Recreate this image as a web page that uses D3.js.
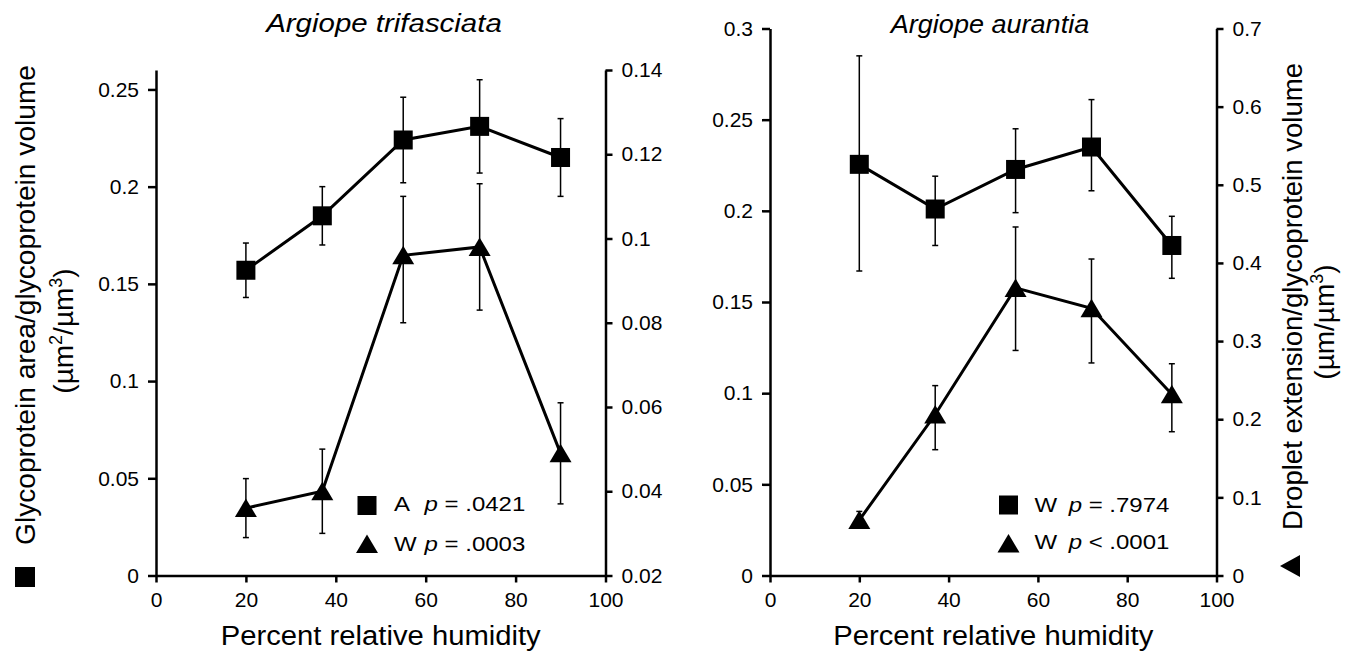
<!DOCTYPE html>
<html>
<head>
<meta charset="utf-8">
<script src="https://cdn.jsdelivr.net/npm/d3@7/dist/d3.min.js"></script>
<style>
body { margin: 0; background: #fff; }
svg { font-family: "Liberation Sans", Arial, Helvetica, sans-serif; }
.axis path, .axis line { stroke: #000; stroke-width: 2.5; }
.axis text { font-size: 21px; fill: #000; }
</style>
</head>
<body>
<div id="chart"></div>
<script>
var humidity = [20, 37, 55, 72, 90];
var xTicks = [0, 20, 40, 60, 80, 100];

// Argiope trifasciata: squares = area/volume (left axis), triangles = extension/volume (right axis)
var triArea   = [0.157, 0.185, 0.224, 0.231, 0.215];
var triAreaLo = [0.143, 0.170, 0.202, 0.207, 0.195];
var triAreaHi = [0.171, 0.200, 0.246, 0.255, 0.235];
var triExt    = [0.036, 0.040, 0.096, 0.098, 0.049];
var triExtLo  = [0.029, 0.030, 0.080, 0.083, 0.037];
var triExtHi  = [0.043, 0.050, 0.110, 0.113, 0.061];
var triLeftTicks  = [0, 0.05, 0.1, 0.15, 0.2, 0.25];
var triLeftLabels = ["0", "0.05", "0.1", "0.15", "0.2", "0.25"];
var triRightTicks  = [0.02, 0.04, 0.06, 0.08, 0.1, 0.12, 0.14];
var triRightLabels = ["0.02", "0.04", "0.06", "0.08", "0.1", "0.12", "0.14"];
var triLegend = [["A", "p", " = .0421"], ["W", "p", " = .0003"]];

// Argiope aurantia
var aurArea   = [0.2255, 0.201, 0.2227, 0.235, 0.181];
var aurAreaLo = [0.167, 0.181, 0.199, 0.211, 0.163];
var aurAreaHi = [0.285, 0.219, 0.245, 0.261, 0.197];
var aurExt    = [0.071, 0.206, 0.368, 0.342, 0.232];
var aurExtLo  = [0.062, 0.161, 0.288, 0.272, 0.184];
var aurExtHi  = [0.082, 0.243, 0.446, 0.405, 0.271];
var aurLeftTicks  = [0, 0.05, 0.1, 0.15, 0.2, 0.25, 0.3];
var aurLeftLabels = ["0", "0.05", "0.1", "0.15", "0.2", "0.25", "0.3"];
var aurRightTicks  = [0, 0.1, 0.2, 0.3, 0.4, 0.5, 0.6, 0.7];
var aurRightLabels = ["0", "0.1", "0.2", "0.3", "0.4", "0.5", "0.6", "0.7"];
var aurLegend = [["W", "p", " = .7974"], ["W", "p", " < .0001"]];

var panels = [
  { title: "Argiope trifasciata", area: triArea, areaLo: triAreaLo, areaHi: triAreaHi,
    ext: triExt, extLo: triExtLo, extHi: triExtHi,
    leftTicks: triLeftTicks, leftLabels: triLeftLabels, leftDomain: [0, 0.26],
    rightTicks: triRightTicks, rightLabels: triRightLabels, rightDomain: [0.02, 0.14],
    legend: triLegend,
    left: 156, right: 605.5, top: 70, bottom: 575.5, titleX: 384, titleY: 32,
    legX: 367, legTextX: 394, legY: [505.5, 544], legBase: [511, 551], legP: 25.5 },
  { title: "Argiope aurantia", area: aurArea, areaLo: aurAreaLo, areaHi: aurAreaHi,
    ext: aurExt, extLo: aurExtLo, extHi: aurExtHi,
    leftTicks: aurLeftTicks, leftLabels: aurLeftLabels, leftDomain: [0, 0.3],
    rightTicks: aurRightTicks, rightLabels: aurRightLabels, rightDomain: [0, 0.7],
    legend: aurLegend,
    left: 770, right: 1216.5, top: 28.5, bottom: 575.5, titleX: 990, titleY: 33,
    legX: 1008.5, legTextX: 1034.5, legY: [505, 543.5], legBase: [512, 549], legP: 28.5 }
];

var width = 1354,
    height = 655;

var svg = d3.select("#chart").append("svg")
    .attr("width", width)
    .attr("height", height);

var triPath = "M0,-9.5L11,9L-11,9Z";
var sq = 19;

panels.forEach(drawPanel);

function drawPanel(p) {

  var x = d3.scaleLinear().domain([0, 100]).range([p.left, p.right]);
  var yL = d3.scaleLinear().domain(p.leftDomain).range([p.bottom, p.top]);
  var yR = d3.scaleLinear().domain(p.rightDomain).range([p.bottom, p.top]);

  svg.append("g")
      .attr("class", "axis")
      .attr("transform", "translate(0," + p.bottom + ")")
      .call(d3.axisBottom(x).tickValues(xTicks).tickSize(7).tickPadding(10).tickSizeOuter(0));

  svg.append("g")
      .attr("class", "axis")
      .attr("transform", "translate(" + p.left + ",0)")
      .call(d3.axisLeft(yL).tickValues(p.leftTicks)
        .tickFormat(function(d, i) { return p.leftLabels[i]; })
        .tickSize(8).tickPadding(9).tickSizeOuter(0));

  svg.append("g")
      .attr("class", "axis")
      .attr("transform", "translate(" + p.right + ",0)")
      .call(d3.axisRight(yR).tickValues(p.rightTicks)
        .tickFormat(function(d, i) { return p.rightLabels[i]; })
        .tickSize(7).tickPadding(9).tickSizeOuter(0));

  svg.selectAll(".axis .domain").attr("stroke-width", 3);

  svg.append("text")
      .attr("x", p.titleX)
      .attr("y", p.titleY)
      .attr("text-anchor", "middle")
      .attr("font-size", 25)
      .attr("font-style", "italic")
      .attr("textLength", p.title.length * 12.4)
      .attr("lengthAdjust", "spacingAndGlyphs")
      .text(p.title);

  svg.append("text")
      .attr("x", (p.left + p.right) / 2)
      .attr("y", 645)
      .attr("text-anchor", "middle")
      .attr("font-size", 27)
      .attr("textLength", 320)
      .attr("lengthAdjust", "spacingAndGlyphs")
      .text("Percent relative humidity");

  var series = [
    { v: p.area, lo: p.areaLo, hi: p.areaHi, y: yL, shape: "square" },
    { v: p.ext, lo: p.extLo, hi: p.extHi, y: yR, shape: "triangle" }
  ];

  series.forEach(function(s) {
    var line = d3.line()
        .x(function(d, i) { return x(humidity[i]); })
        .y(function(d) { return s.y(d); });

    svg.append("path")
        .datum(s.v)
        .attr("d", line)
        .attr("fill", "none")
        .attr("stroke", "#000")
        .attr("stroke-width", 3);

    var bars = svg.append("g").attr("stroke", "#000").attr("stroke-width", 1.5);
    s.v.forEach(function(d, i) {
      var cx = x(humidity[i]);
      bars.append("line").attr("x1", cx).attr("x2", cx).attr("y1", s.y(s.lo[i])).attr("y2", s.y(s.hi[i]));
      bars.append("line").attr("x1", cx - 3).attr("x2", cx + 3).attr("y1", s.y(s.lo[i])).attr("y2", s.y(s.lo[i]));
      bars.append("line").attr("x1", cx - 3).attr("x2", cx + 3).attr("y1", s.y(s.hi[i])).attr("y2", s.y(s.hi[i]));
    });

    if (s.shape == "square") {
      svg.selectAll(null).data(s.v).enter().append("rect")
          .attr("x", function(d, i) { return x(humidity[i]) - sq / 2; })
          .attr("y", function(d) { return s.y(d) - sq / 2; })
          .attr("width", sq)
          .attr("height", sq)
          .attr("fill", "#000");
    } else {
      svg.selectAll(null).data(s.v).enter().append("path")
          .attr("d", triPath)
          .attr("transform", function(d, i) { return "translate(" + x(humidity[i]) + "," + s.y(d) + ")"; })
          .attr("fill", "#000");
    }
  });

  // legend
  svg.append("rect")
      .attr("x", p.legX - sq / 2).attr("y", p.legY[0] - sq / 2)
      .attr("width", sq).attr("height", sq)
      .attr("fill", "#000");
  svg.append("path")
      .attr("d", triPath)
      .attr("transform", "translate(" + p.legX + "," + p.legY[1] + ")")
      .attr("fill", "#000");

  p.legend.forEach(function(row, k) {
    var g = svg.append("g")
        .attr("transform", "translate(" + p.legTextX + "," + p.legBase[k] + ") scale(1.2,1)")
        .attr("font-size", 20);
    g.append("text").text(row[0]);
    var t = g.append("text").attr("x", p.legP);
    t.append("tspan").attr("font-style", "italic").text(row[1]);
    t.append("tspan").text(row[2]);
  });
}

// left y title
var lt = svg.append("g").attr("font-size", 28);
lt.append("rect")
    .attr("x", 15).attr("y", 567)
    .attr("width", 20).attr("height", 20)
    .attr("fill", "#000");
lt.append("text")
    .attr("transform", "translate(35,545) rotate(-90)")
    .attr("textLength", 480)
    .attr("lengthAdjust", "spacingAndGlyphs")
    .text("Glycoprotein area/glycoprotein volume");
var l2 = lt.append("text")
    .attr("transform", "translate(73,331) rotate(-90)")
    .attr("text-anchor", "middle");
l2.append("tspan").text("(µm");
l2.append("tspan").attr("font-size", 18).attr("dy", -11).text("2");
l2.append("tspan").attr("dy", 11).text("/µm");
l2.append("tspan").attr("font-size", 18).attr("dy", -11).text("3");
l2.append("tspan").attr("dy", 11).text(")");

// right y title
var rt = svg.append("g").attr("font-size", 28);
rt.append("path")
    .attr("d", "M0,-10L11,10L-11,10Z")
    .attr("transform", "translate(1290,566) rotate(-90)")
    .attr("fill", "#000");
rt.append("text")
    .attr("transform", "translate(1302,530) rotate(-90)")
    .attr("textLength", 467)
    .attr("lengthAdjust", "spacingAndGlyphs")
    .text("Droplet extension/glycoprotein volume");
var r2 = rt.append("text")
    .attr("transform", "translate(1334,322) rotate(-90)")
    .attr("text-anchor", "middle");
r2.append("tspan").text("(µm/µm");
r2.append("tspan").attr("font-size", 18).attr("dy", -11).text("3");
r2.append("tspan").attr("dy", 11).text(")");
</script>
</body>
</html>
